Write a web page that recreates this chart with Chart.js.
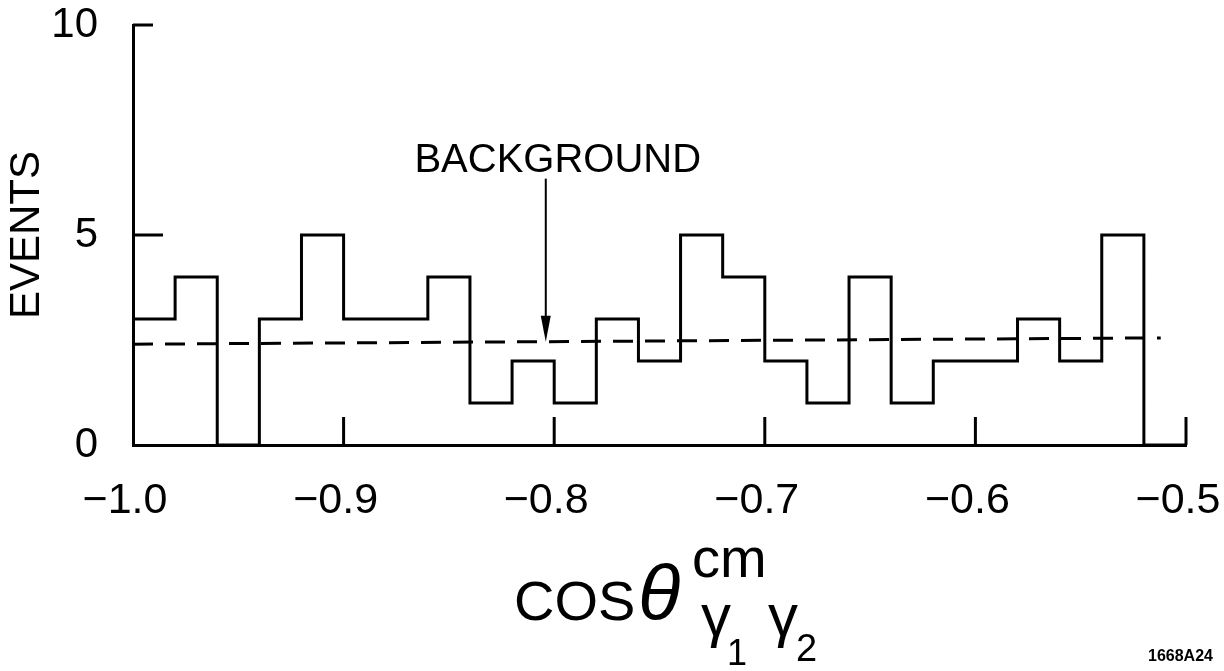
<!DOCTYPE html>
<html>
<head>
<meta charset="utf-8">
<script src="https://cdn.jsdelivr.net/npm/chart.js@4.4.1/dist/chart.umd.min.js"></script>
<style>
  html, body { margin: 0; padding: 0; background: #fff; }
  #wrap { width: 1224px; height: 671px; }
</style>
</head>
<body>
<div id="wrap"><canvas id="chart" width="1224" height="671"></canvas></div>
<script>
// histogram bins (left edges) and event counts
const binLefts = [-1.00, -0.98, -0.96, -0.94, -0.92, -0.90, -0.88, -0.86, -0.84, -0.82,
                  -0.80, -0.78, -0.76, -0.74, -0.72, -0.70, -0.68, -0.66, -0.64, -0.62,
                  -0.60, -0.58, -0.56, -0.54, -0.52];
const binEnd = -0.50;
const counts = [3, 4, 0, 3, 5, 3, 3, 4, 1, 2,
                1, 3, 2, 5, 4, 2, 1, 4, 1, 2,
                2, 3, 2, 5, 0];

// dashed background estimate
const backgroundX = [-1.0, -0.512];
const backgroundY = [2.40, 2.55];

// arrow pointing at the background line
const arrowX = -0.804;
const arrowLabel = 'BACKGROUND';

const xTickValues = [-1.0, -0.9, -0.8, -0.7, -0.6, -0.5];
const xTickLabels = ['\u22121.0', '\u22120.9', '\u22120.8', '\u22120.7', '\u22120.6', '\u22120.5'];
const yTickValues = [0, 5, 10];
const yTickLabels = ['0', '5', '10'];

const FONT = "'Liberation Sans', Arial, sans-serif";

const histPoints = binLefts.map((x, i) => ({ x: x, y: counts[i] }));
histPoints.push({ x: binEnd, y: 0 });

const bgPoints = backgroundX.map((x, i) => ({ x: x, y: backgroundY[i] }));

function bgAt(x) {
    const t = (x - backgroundX[0]) / (backgroundX[1] - backgroundX[0]);
    return backgroundY[0] + t * (backgroundY[1] - backgroundY[0]);
}

// inward ticks, arrow, label and the x title with sub/superscripts
const decorations = {
    id: 'decorations',
    afterDraw(chart) {
        const ctx = chart.ctx;
        const xs = chart.scales.x;
        const ys = chart.scales.y;
        const bottom = ys.getPixelForValue(0);
        ctx.save();
        ctx.strokeStyle = '#000';
        ctx.fillStyle = '#000';
        ctx.lineWidth = 3;

        // x ticks pointing up
        xTickValues.slice(1).forEach(v => {
            const px = xs.getPixelForValue(v);
            ctx.beginPath();
            ctx.moveTo(px, bottom);
            ctx.lineTo(px, bottom - 28);
            ctx.stroke();
        });
        // y ticks pointing right
        const yTickLen = { 5: 30, 10: 20 };
        [5, 10].forEach(v => {
            const py = ys.getPixelForValue(v);
            ctx.beginPath();
            ctx.moveTo(xs.left, py);
            ctx.lineTo(xs.left + yTickLen[v], py);
            ctx.stroke();
        });

        // arrow
        const ax = xs.getPixelForValue(arrowX);
        const tipY = ys.getPixelForValue(bgAt(arrowX));
        const startY = tipY - 163;
        ctx.lineWidth = 2;
        ctx.beginPath();
        ctx.moveTo(ax, startY);
        ctx.lineTo(ax, tipY - 20);
        ctx.stroke();
        ctx.beginPath();
        ctx.moveTo(ax, tipY);
        ctx.lineTo(ax - 5, tipY - 26);
        ctx.lineTo(ax + 5, tipY - 26);
        ctx.closePath();
        ctx.fill();

        ctx.font = '40px ' + FONT;
        ctx.textAlign = 'center';
        ctx.textBaseline = 'alphabetic';
        ctx.fillText(arrowLabel, ax + 12, startY - 7);

        // x axis title
        ctx.textAlign = 'left';
        ctx.font = '56px ' + FONT;
        ctx.fillText('COS', 514, 620);
        ctx.font = 'italic 78px ' + FONT;
        ctx.fillText('\u03b8', 638, 620);
        ctx.font = '56px ' + FONT;
        ctx.fillText('cm', 692, 577);
        ctx.font = '60px ' + FONT;
        ctx.fillText('\u03b3', 701, 636);
        ctx.fillText('\u03b3', 768, 636);
        ctx.font = '36px ' + FONT;
        ctx.fillText('1', 727, 665);
        ctx.font = '38px ' + FONT;
        ctx.fillText('2', 796, 661);

        ctx.font = 'bold 16px ' + FONT;
        ctx.fillText('1668A24', 1148, 661);
        ctx.restore();
    }
};

new Chart(document.getElementById('chart'), {
    type: 'line',
    data: {
        datasets: [
            {
                label: 'Events',
                data: histPoints,
                stepped: 'before',
                borderColor: '#000',
                borderWidth: 3,
                pointRadius: 0,
                fill: false,
                clip: false
            },
            {
                label: 'Background',
                data: bgPoints,
                borderColor: '#000',
                borderWidth: 3,
                borderDash: [20, 12],
                pointRadius: 0,
                fill: false
            }
        ]
    },
    options: {
        responsive: false,
        animation: false,
        layout: { padding: { top: 25, right: 38, left: 0, bottom: 0 } },
        plugins: {
            legend: { display: false },
            tooltip: { enabled: false }
        },
        scales: {
            x: {
                type: 'linear',
                min: -1.0,
                max: -0.5,
                afterFit(scale) {
                    scale.height = 226;
                    scale.paddingLeft = 0;
                    scale.paddingRight = 0;
                },
                afterBuildTicks(scale) { scale.ticks = xTickValues.map(v => ({ value: v })); },
                grid: { display: false, drawTicks: false },
                border: { display: true, color: '#000', width: 3 },
                ticks: {
                    color: '#000',
                    padding: 30,
                    labelOffset: -8,
                    maxRotation: 0,
                    autoSkip: false,
                    font: { family: FONT, size: 43 },
                    callback: (v) => xTickLabels[xTickValues.findIndex(t => Math.abs(t - v) < 1e-9)]
                }
            },
            y: {
                min: 0,
                max: 10,
                afterFit(scale) {
                    scale.width = 133;
                    scale.paddingTop = 0;
                    scale.paddingBottom = 0;
                },
                afterBuildTicks(scale) { scale.ticks = yTickValues.map(v => ({ value: v })); },
                grid: { display: false, drawTicks: false },
                border: { display: true, color: '#000', width: 3 },
                ticks: {
                    color: '#000',
                    padding: 35,
                    font: { family: FONT, size: 42 },
                    callback: (v) => yTickLabels[yTickValues.indexOf(v)]
                },
                title: {
                    display: true,
                    text: 'EVENTS',
                    color: '#000',
                    padding: { top: 6, bottom: 0 },
                    font: { family: FONT, size: 42, lineHeight: 1 }
                }
            }
        }
    },
    plugins: [decorations]
});
</script>
</body>
</html>
